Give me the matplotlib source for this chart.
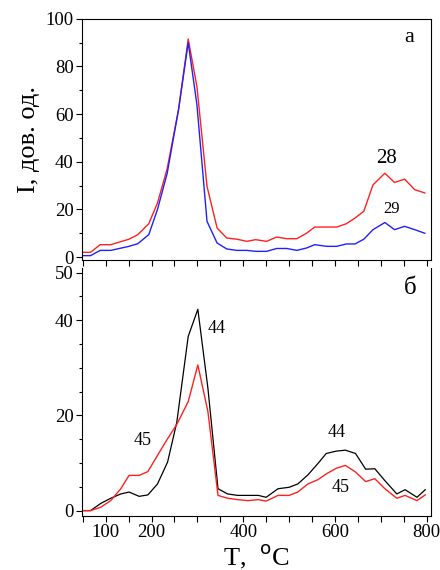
import matplotlib
matplotlib.use("Agg")
import matplotlib.pyplot as plt
from matplotlib.ticker import MultipleLocator, FixedLocator, NullFormatter, FixedFormatter

plt.rcParams['font.family'] = ['Liberation Serif', 'DejaVu Serif']

# Panel a
T_a = [50, 67, 88, 111, 151, 170, 194, 213, 234, 259, 280, 299, 321, 343, 364, 386, 408, 427,
       451, 473, 495, 517, 538, 556, 582, 604, 625, 644, 663, 683, 709, 730, 752, 774, 796]
I28 = [2, 2, 5.2, 5.2, 7.5, 9.4, 14, 22.7, 37, 62, 91.5, 71.6, 29.7, 12.2, 8, 7.5, 6.6, 7.3,
       6.6, 8.4, 7.7, 7.7, 10, 12.6, 12.6, 12.6, 14, 16.4, 19.2, 30.3, 35.2, 31.3, 32.7, 28.3, 26.9]
I29 = [0.6, 0.6, 2.8, 2.8, 4.5, 5.6, 9.4, 20, 35, 62, 90.0, 64, 15, 5.9, 3.4, 2.8, 2.8, 2.4,
       2.4, 3.6, 3.6, 2.8, 3.8, 5.2, 4.5, 4.5, 5.5, 5.5, 7.5, 11.5, 14.5, 11.5, 12.9, 11.5, 10]

# Panel b
T_b = [49, 67, 89, 111, 133, 151, 173, 192, 213, 235, 255, 280, 301, 323, 345, 366, 388, 410,
       433, 450, 476, 500, 519, 541, 563, 581, 603, 623, 645, 667, 687, 709, 735, 753, 779, 797]
I44 = [0, 0, 1.5, 2.6, 3.5, 3.9, 3, 3.3, 5.6, 10.2, 18.5, 36.6, 42.3, 25.7, 4.6, 3.5, 3.2, 3.2,
       3.2, 2.8, 4.6, 4.9, 5.6, 7.5, 9.9, 12, 12.5, 12.7, 12, 8.7, 8.8, 6.3, 3.5, 4.4, 2.8, 4.4]
I45 = [0, 0, 0.7, 2.1, 4.6, 7.4, 7.4, 8.2, 11.6, 15.1, 18.1, 22.9, 30.6, 20.8, 3.2, 2.6, 2.3, 2.1,
       2.3, 2.0, 3.2, 3.2, 3.9, 5.6, 6.5, 7.7, 8.9, 9.5, 8.1, 6.1, 6.7, 4.6, 2.6, 3.2, 2.1, 3.3]

x_labels = ["100", "200", "400", "600", "800"]
x_label_pos = [100, 200, 400, 600, 800]

fig = plt.figure(figsize=(4.4, 5.7), dpi=100)
ax1 = fig.add_axes([0.186, 0.544, 0.794, 0.423])
ax2 = fig.add_axes([0.186, 0.095, 0.794, 0.435])

ax1.plot(T_a, I28, color='#ff2020', lw=1.0)
ax1.plot(T_a, I29, color='#2020ff', lw=1.0)
ax1.set_xlim(48, 810)
ax1.set_ylim(-1.2, 100)
ax1.yaxis.set_major_locator(MultipleLocator(20))
ax1.yaxis.set_minor_locator(MultipleLocator(10))
ax1.xaxis.set_major_locator(MultipleLocator(50))
ax1.xaxis.set_major_formatter(NullFormatter())
ax1.set_ylabel("I, дов. од.", fontsize=19, labelpad=4)
ax1.text(712, 41.5, "28", fontsize=15, ha='center', va='center')
ax1.text(723, 20, "29", fontsize=12, ha='center', va='center')
ax1.text(762, 92, "а", fontsize=16, ha='center', va='center')

ax2.plot(T_b, I44, color='black', lw=0.9)
ax2.plot(T_b, I45, color='#ff2020', lw=1.0)
ax2.set_xlim(48, 810)
ax2.set_ylim(-1.1, 51)
ax2.yaxis.set_major_locator(FixedLocator([0, 20, 40, 50]))
ax2.yaxis.set_minor_locator(MultipleLocator(5))
ax2.xaxis.set_major_locator(FixedLocator(x_label_pos))
ax2.xaxis.set_major_formatter(FixedFormatter(x_labels))
ax2.xaxis.set_minor_locator(MultipleLocator(50))
ax2.spines['top'].set_visible(False)
ax2.set_xlabel("T,  $^{\\rm o}$C", fontsize=19, labelpad=1)
ax2.text(343, 38.2, "44", fontsize=13, ha='center', va='center')
ax2.text(180, 14.8, "45", fontsize=13, ha='center', va='center')
ax2.text(603, 16.4, "44", fontsize=13, ha='center', va='center')
ax2.text(613, 4.9, "45", fontsize=13, ha='center', va='center')
ax2.text(764, 46.8, "б", fontsize=18, ha='center', va='center')

for ax in (ax1, ax2):
    ax.tick_params(axis='both', which='major', direction='out', length=4, width=0.8, labelsize=13.5)
    ax.tick_params(axis='both', which='minor', direction='out', length=2.5, width=0.8)
    ax.tick_params(axis='y', pad=2)
    for s in ax.spines.values():
        s.set_linewidth(0.8)
ax2.tick_params(axis='x', which='major', length=4, pad=2)
ax2.tick_params(axis='x', which='minor', length=4)

fig.savefig("out.png", dpi=100)
